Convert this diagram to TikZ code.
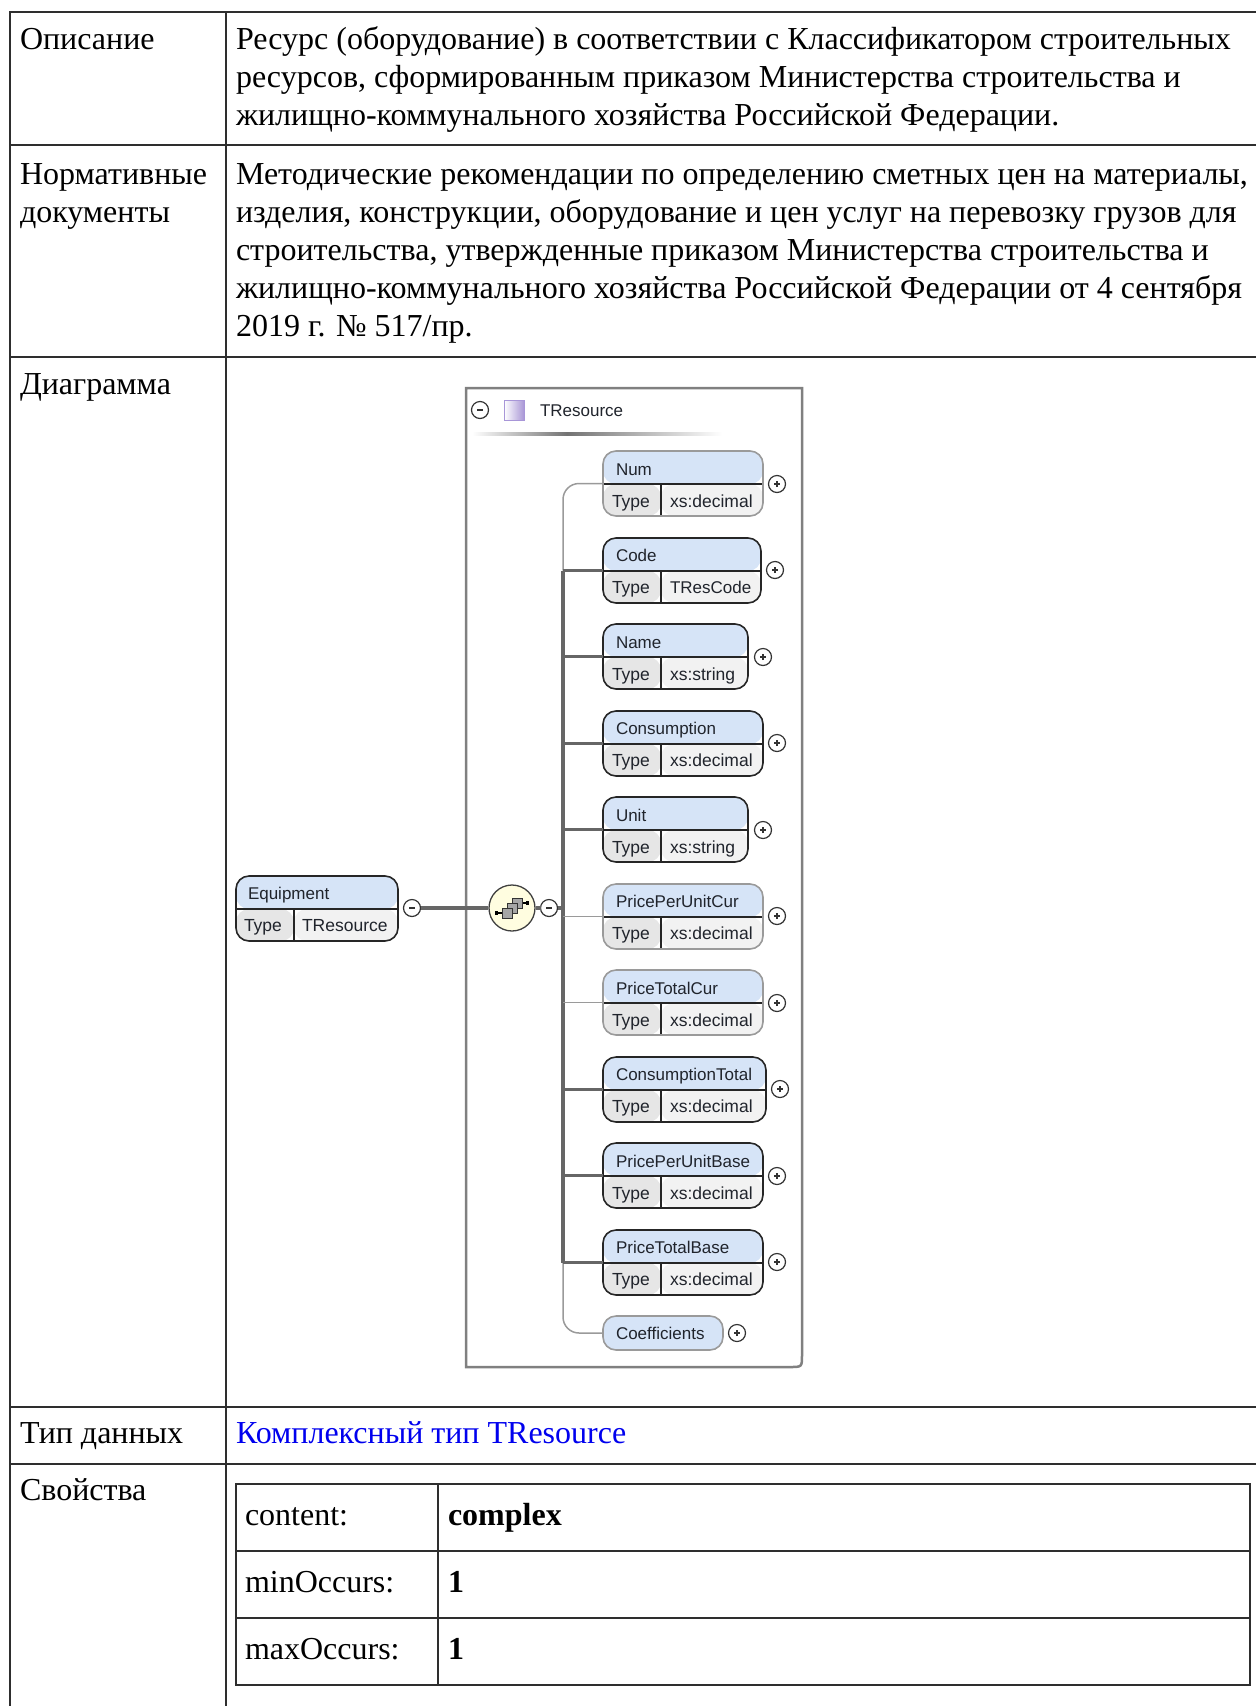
\documentclass[tikz,border=0pt]{standalone}
\usepackage{fontspec}
\setmainfont{Liberation Serif}
\newfontfamily\schemafont{Liberation Sans}
\definecolor{gridline}{HTML}{2E2E2E}
\definecolor{linkblue}{HTML}{0000EE}
\definecolor{headblue}{HTML}{D6E4F7}
\definecolor{typegray}{HTML}{E6E6E6}
\definecolor{valgray}{HTML}{F2F2F2}
\definecolor{schemaink}{HTML}{20242C}
\definecolor{edgegray}{HTML}{9A9A9A}
\definecolor{groupedge}{HTML}{A896D8}
\definecolor{groupfill}{HTML}{A997D6}
\tikzset{
  cell/.style={anchor=base west, inner sep=0, outer sep=0, align=left, font=\fontsize{32}{38}\selectfont},
  boldcell/.style={cell, font=\fontsize{32}{38}\selectfont\bfseries},
  grid/.style={draw=gridline, line width=2.8},
  elem/.style={anchor=north west, rounded corners=13pt, minimum height=65, inner sep=0, outer sep=0, line width=1.6,
    path picture={
      \fill[headblue] (path picture bounding box.north west) rectangle ([yshift=-33pt]path picture bounding box.north east);
      \fill[typegray] ([yshift=-33pt]path picture bounding box.north west) rectangle ([xshift=58pt]path picture bounding box.south west);
      \fill[valgray] ([xshift=58pt,yshift=-33pt]path picture bounding box.north west) rectangle (path picture bounding box.south east);
      \draw[#1] ([yshift=-33pt]path picture bounding box.north west) -- ([yshift=-33pt]path picture bounding box.north east);
      \draw[#1] ([xshift=58pt,yshift=-33pt]path picture bounding box.north west) -- ([xshift=58pt]path picture bounding box.south west);
    }},
  reqbox/.style={elem=black!85, draw=black!85},
  optbox/.style={elem=black!85, draw=edgegray},
  lbl/.style={anchor=base west, inner sep=0, outer sep=0, text=schemaink, font=\schemafont\fontsize{17.5}{20}\selectfont},
  namelbl/.style={lbl, font=\schemafont\fontsize{17}{20}\selectfont},
  btn/.style={circle, draw=black!80, fill=white, line width=1.2, minimum size=17, inner sep=0, outer sep=0},
  plusbtn/.style={btn, path picture={
      \draw[black!80, line width=1.2] ([xshift=-3pt]path picture bounding box.center) -- ([xshift=3pt]path picture bounding box.center);
      \draw[black!80, line width=1.2] ([yshift=-3pt]path picture bounding box.center) -- ([yshift=3pt]path picture bounding box.center);
    }},
  minusbtn/.style={btn, path picture={
      \draw[black!80, line width=1.2] ([xshift=-3pt]path picture bounding box.center) -- ([xshift=3pt]path picture bounding box.center);
    }},
  reqline/.style={draw=black!60, line width=3.6},
  optline/.style={draw=edgegray, line width=1.5, rounded corners=16pt}
}
\begin{document}
\begin{tikzpicture}[x=1pt,y=-1pt]
\useasboundingbox (0,0) rectangle (1256,1706);

% outer table
\draw[grid] (1256,12) -- (10,12) -- (10,1706);
\draw[grid] (226,12) -- (226,1706);
\draw[grid] (10,145) -- (1256,145);
\draw[grid] (10,357) -- (1256,357);
\draw[grid] (10,1407) -- (1256,1407);
\draw[grid] (10,1464) -- (1256,1464);

\node[cell] (descname) at (20,49) {Описание};
\node[cell] (desctext) at (236,125) {Ресурс (оборудование) в соответствии с Классификатором строительных\\ресурсов, сформированным приказом Министерства строительства и\\жилищно-коммунального хозяйства Российской Федерации.};
\node[cell] (docsname) at (20,222) {Нормативные\\документы};
\node[cell] (docstext) at (236,336) {Методические рекомендации по определению сметных цен на материалы,\\изделия, конструкции, оборудование и цен услуг на перевозку грузов для\\строительства, утвержденные приказом Министерства строительства и\\жилищно-коммунального хозяйства Российской Федерации от 4 сентября\\2019 г. № 517/пр.};
\node[cell] (diagname) at (20,394) {Диаграмма};
\node[cell] (typename) at (20,1443) {Тип данных};
\node[cell, text=linkblue] (typelink) at (236,1443) {Комплексный тип TResource};
\node[cell] (propname) at (20,1500) {Свойства};

% inner table
\draw[grid] (236,1484) rectangle (1250,1685);
\draw[grid] (438,1484) -- (438,1685);
\draw[grid] (236,1551) -- (1250,1551);
\draw[grid] (236,1618) -- (1250,1618);
\node[cell] (propcontent) at (245,1525) {content:};
\node[boldcell] (valcontent) at (448,1525) {complex};
\node[cell] (propmin) at (245,1592) {minOccurs:};
\node[boldcell] (valmin) at (448,1592) {1};
\node[cell] (propmax) at (245,1659) {maxOccurs:};
\node[boldcell] (valmax) at (448,1659) {1};

% group frame
\draw[draw=black!50, line width=2.5] (466,388) -- (802,388) -- (802,1355) .. controls (802,1367) .. (790,1367) -- (466,1367) -- cycle;
\node[minusbtn] (grpminus) at (480,410) {};
\draw[draw=groupedge, line width=0.8, left color=white, right color=groupfill] (504,400) rectangle (524,420);
\node[namelbl] (grpname) at (540,416) {TResource};
\shade[left color=white, right color=black!55] (472,432) rectangle (567,435);
\shade[left color=black!55, right color=white] (567,432) rectangle (722,435);

% element on the left
\node[reqbox, minimum width=162] (equip) at (236,876) {};
\node[namelbl] (equipname) at (248,899) {Equipment};
\node[lbl] (equiptype) at (244,931) {Type};
\node[lbl] (equipval) at (302,931) {TResource};
\node[minusbtn] (equipminus) at (412,908) {};
\node[circle, draw=black!75, fill=yellow!12, line width=1.3, minimum size=46, inner sep=0] (choice) at (512,908) {};
\node[minusbtn] (choiceminus) at (549,908) {};
\coordinate (bus) at (563,908);

% icon of the group
\draw[black, line width=1.2] (496,913) -- (502,913);
\draw[black, line width=1.2] (522,903) -- (528,903);
\fill[black] (495,911) rectangle (498,915);
\fill[black] (526,901) rectangle (529,905);
\draw[draw=black!80, fill=black!35] (512,898) rectangle (522,908);
\draw[draw=black!80, fill=black!35] (507,903) rectangle (517,913);
\draw[draw=black!80, fill=black!35] (502,908) rectangle (512,918);

% children
\node[optbox, minimum width=160] (num) at (603,451) {};
\node[namelbl] (numname) at (616,475) {Num};
\node[lbl] (numtype) at (612,507) {Type};
\node[lbl] (numval) at (670,507) {xs:decimal};
\node[plusbtn] (numplus) at (777,484) {};

\node[reqbox, minimum width=158] (code) at (603,538) {};
\node[namelbl] (codename) at (616,561) {Code};
\node[lbl] (codetype) at (612,593) {Type};
\node[namelbl] (codeval) at (670,593) {TResCode};
\node[plusbtn] (codeplus) at (775,570) {};

\node[reqbox, minimum width=145] (name) at (603,624) {};
\node[namelbl] (namename) at (616,648) {Name};
\node[lbl] (nametype) at (612,680) {Type};
\node[lbl] (nameval) at (670,680) {xs:string};
\node[plusbtn] (nameplus) at (763,657) {};

\node[reqbox, minimum width=160] (cons) at (603,711) {};
\node[namelbl] (consname) at (616,734) {Consumption};
\node[lbl] (constype) at (612,766) {Type};
\node[lbl] (consval) at (670,766) {xs:decimal};
\node[plusbtn] (consplus) at (777,743) {};

\node[reqbox, minimum width=145] (unit) at (603,797) {};
\node[namelbl] (unitname) at (616,821) {Unit};
\node[lbl] (unittype) at (612,853) {Type};
\node[lbl] (unitval) at (670,853) {xs:string};
\node[plusbtn] (unitplus) at (763,830) {};

\node[optbox, minimum width=160] (unitcur) at (603,884) {};
\node[namelbl] (unitcurname) at (616,907) {PricePerUnitCur};
\node[lbl] (unitcurtype) at (612,939) {Type};
\node[lbl] (unitcurval) at (670,939) {xs:decimal};
\node[plusbtn] (unitcurplus) at (777,916) {};

\node[optbox, minimum width=160] (totalcur) at (603,970) {};
\node[namelbl] (totalcurname) at (616,994) {PriceTotalCur};
\node[lbl] (totalcurtype) at (612,1026) {Type};
\node[lbl] (totalcurval) at (670,1026) {xs:decimal};
\node[plusbtn] (totalcurplus) at (777,1003) {};

\node[reqbox, minimum width=163] (constotal) at (603,1057) {};
\node[namelbl] (constotalname) at (616,1080) {ConsumptionTotal};
\node[lbl] (constotaltype) at (612,1112) {Type};
\node[lbl] (constotalval) at (670,1112) {xs:decimal};
\node[plusbtn] (constotalplus) at (780,1089) {};

\node[reqbox, minimum width=160] (unitbase) at (603,1143) {};
\node[namelbl] (unitbasename) at (616,1167) {PricePerUnitBase};
\node[lbl] (unitbasetype) at (612,1199) {Type};
\node[lbl] (unitbaseval) at (670,1199) {xs:decimal};
\node[plusbtn] (unitbaseplus) at (777,1176) {};

\node[reqbox, minimum width=160] (totalbase) at (603,1230) {};
\node[namelbl] (totalbasename) at (616,1253) {PriceTotalBase};
\node[lbl] (totalbasetype) at (612,1285) {Type};
\node[lbl] (totalbaseval) at (670,1285) {xs:decimal};
\node[plusbtn] (totalbaseplus) at (777,1262) {};

\node[anchor=north west, draw=edgegray, fill=headblue, line width=1.6, rounded corners=13pt, minimum width=120, minimum height=34, inner sep=0, outer sep=0] (coef) at (603,1316) {};
\node[namelbl] (coefname) at (616,1339) {Coefficients};
\node[plusbtn] (coefplus) at (737,1333) {};

% connectors
\draw[reqline] (equipminus) -- (choice);
\draw[reqline] (choice) -- (choiceminus);
\draw[reqline] (choiceminus) -- (bus);
\draw[optline] (num.west) -| (code.west -| bus);
\draw[optline] (totalbase.west -| bus) |- (coef.west);
\draw[reqline] (code.west -| bus) -- (totalbase.west -| bus);
\draw[reqline] (code.west -| bus) -- (code.west);
\draw[reqline] (name.west -| bus) -- (name.west);
\draw[reqline] (cons.west -| bus) -- (cons.west);
\draw[reqline] (unit.west -| bus) -- (unit.west);
\draw[optline] (unitcur.west -| bus) -- (unitcur.west);
\draw[optline] (totalcur.west -| bus) -- (totalcur.west);
\draw[reqline] (constotal.west -| bus) -- (constotal.west);
\draw[reqline] (unitbase.west -| bus) -- (unitbase.west);
\draw[reqline] (totalbase.west -| bus) -- (totalbase.west);

\end{tikzpicture}
\end{document}
